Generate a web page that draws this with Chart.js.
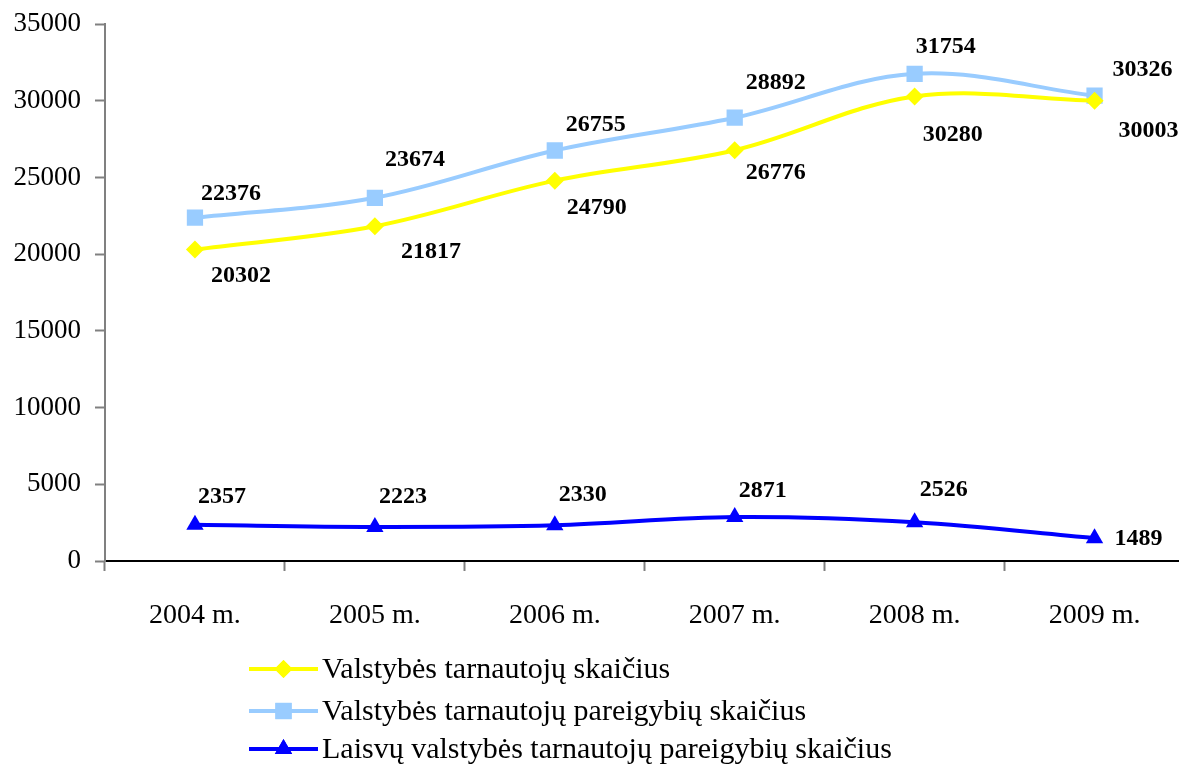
<!DOCTYPE html>
<html><head><meta charset="utf-8">
<script src="https://cdn.jsdelivr.net/npm/chart.js@4/dist/chart.umd.min.js"></script>
<style>html,body{margin:0;padding:0;background:#fff;overflow:hidden}#wrap{width:1179px;height:765px;position:relative;overflow:hidden}</style>
</head><body><div id="wrap"><canvas id="c" width="1196" height="765"></canvas></div>
<script>
const categories = ['2004 m.','2005 m.','2006 m.','2007 m.','2008 m.','2009 m.'];
const tarnautojai = [20302, 21817, 24790, 26776, 30280, 30003];
const pareigybes = [22376, 23674, 26755, 28892, 31754, 30326];
const laisvos = [2357, 2223, 2330, 2871, 2526, 1489];
const seriesNames = ['Valstybės tarnautojų skaičius','Valstybės tarnautojų pareigybių skaičius','Laisvų valstybės tarnautojų pareigybių skaičius'];
const yTicks = [0,5000,10000,15000,20000,25000,30000,35000];

const SERIF = '"Liberation Serif","Times New Roman",serif';

const labelPlugin = {
  id:'valLabels',
  afterDatasetsDraw(chart){
    const ctx = chart.ctx;
    ctx.save();
    ctx.font = 'bold 24px ' + SERIF;
    ctx.fillStyle = '#000';
    ctx.textAlign = 'center';
    ctx.textBaseline = 'middle';
    chart.data.datasets.forEach((ds,i)=>{
      const meta = chart.getDatasetMeta(i);
      meta.data.forEach((pt,j)=>{
        const off = ds.labelOffsets[j];
        ctx.fillText(String(ds.data[j]), pt.x + off[0], pt.y + off[1]);
      });
    });
    ctx.restore();
  }
};

const legendPlugin = {
  id:'customLegend',
  afterDraw(chart){
    const ctx = chart.ctx;
    ctx.save();
    const x0 = 249, x1 = 318, tx = 322;
    const ys = [669, 711, 749];
    chart.data.datasets.forEach((ds,i)=>{
      const y = ys[i];
      ctx.strokeStyle = ds.borderColor;
      ctx.lineWidth = 4;
      ctx.beginPath(); ctx.moveTo(x0,y); ctx.lineTo(x1,y); ctx.stroke();
      ctx.fillStyle = ds.pointBackgroundColor;
      Chart.helpers.drawPoint(ctx, {pointStyle: ds.pointStyle, radius: ds.pointRadius, borderWidth:0, rotation:0}, (x0+x1)/2, y);
      ctx.fill();
      ctx.fillStyle = '#000';
      ctx.font = '30px ' + SERIF;
      ctx.textAlign = 'left';
      ctx.textBaseline = 'middle';
      ctx.fillText(ds.label, tx, y+1);
    });
    ctx.restore();
  }
};

new Chart(document.getElementById('c'), {
  type:'line',
  data:{
    labels: categories,
    datasets:[
      {label: seriesNames[0], data: tarnautojai, borderColor:'#FFFF00', backgroundColor:'#FFFF00', pointBackgroundColor:'#FFFF00', pointBorderColor:'#FFFF00', pointBorderWidth:0, borderWidth:4, pointStyle:'rectRot', pointRadius:9, tension:0.35,
       labelOffsets:[[46,26],[56,26],[42,27],[41,23],[38,38],[54,30]]},
      {label: seriesNames[1], data: pareigybes, borderColor:'#99CCFF', backgroundColor:'#99CCFF', pointBackgroundColor:'#99CCFF', pointBorderColor:'#99CCFF', pointBorderWidth:0, borderWidth:4, pointStyle:'rect', pointRadius:11.5, tension:0.35,
       labelOffsets:[[36,-24],[40,-38],[41,-26],[41,-35],[31,-27],[48,-26]]},
      {label: seriesNames[2], data: laisvos, borderColor:'#0000FF', backgroundColor:'#0000FF', pointBackgroundColor:'#0000FF', pointBorderColor:'#0000FF', pointBorderWidth:0, borderWidth:4, pointStyle:'triangle', pointRadius:10, tension:0.35,
       labelOffsets:[[27,-28],[28,-30],[28,-30],[28,-26],[29,-32],[44,1]]}
    ]
  },
  options:{
    responsive:false,
    animation:false,
    events:[],
    layout:{padding:{top:24,left:0,right:0,bottom:0}},
    plugins:{legend:{display:false}, tooltip:{enabled:false}},
    scales:{
      x:{
        offset:true,
        grid:{offset:true, drawOnChartArea:false, drawTicks:true, tickLength:10, color:'#808080', tickWidth:2},
        border:{color:'#000', width:2},
        ticks:{color:'#000', font:{family:SERIF, size:28}, padding:28},
        afterFit(s){ s.height = 204; s.paddingLeft = 0; s.paddingRight = 0; }
      },
      y:{
        min:0, max:35000,
        afterBuildTicks(s){ s.ticks = yTicks.map(v=>({value:v})); },
        grid:{drawOnChartArea:false, tickLength:10, color:'#808080', tickWidth:2},
        border:{color:'#808080', width:2},
        ticks:{color:'#000', font:{family:SERIF, size:27}, padding:14, callback:(v)=>String(v)},
        afterFit(s){ s.width = 105; s.paddingTop = 0; s.paddingBottom = 0; }
      }
    }
  },
  plugins:[labelPlugin, legendPlugin]
});
</script></body></html>
